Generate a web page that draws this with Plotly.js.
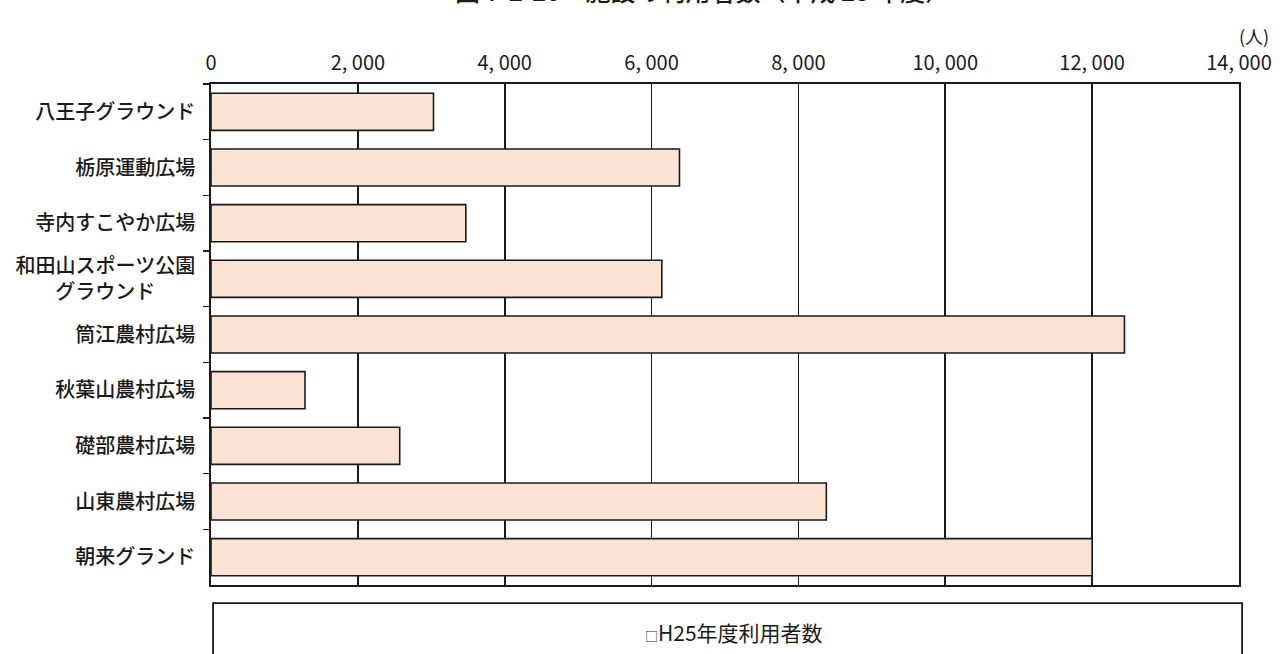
<!DOCTYPE html>
<html>
<head>
<meta charset="utf-8">
<script src="https://cdn.plot.ly/plotly-3.0.1.min.js"></script>
<style>
  html, body { margin: 0; padding: 0; background: #ffffff; }
  #chart { width: 1280px; height: 654px; }
</style>
</head>
<body>
<div id="chart"></div>
<script>
// Facility names (top to bottom)
const facilities = [
  "八王子グラウンド",
  "栃原運動広場",
  "寺内すこやか広場",
  "和田山スポーツ公園<br>グラウンド　　",
  "筒江農村広場",
  "秋葉山農村広場",
  "礎部農村広場",
  "山東農村広場",
  "朝来グランド"
];

// Number of users, FY H25 (persons)
const users = [3030, 6380, 3470, 6140, 12440, 1280, 2570, 8380, 12000];

// Axis ticks
const xTickVals = [0, 2000, 4000, 6000, 8000, 10000, 12000, 14000];
const xTickText = ["0", "2, 000", "4, 000", "6, 000", "8, 000", "10, 000", "12, 000", "14, 000"];

const seriesName = "H25年度利用者数";
const chartTitle = "図 7-2-20　施設の利用者数（平成 25 年度）";
const unitLabel = "(人)";

const FONT = "'Noto Sans CJK JP', 'Noto Sans', sans-serif";
const INK = "#1a1a1a";

const trace = {
  type: "bar",
  orientation: "h",
  x: users,
  y: facilities,
  name: seriesName,
  marker: {
    color: "#FAE3D2",
    line: { color: INK, width: 1.6 }
  },
  hoverinfo: "x+y",
  showlegend: false
};

const layout = {
  width: 1280,
  height: 654,
  margin: { l: 211, r: 41, t: 84, b: 69 },
  paper_bgcolor: "#ffffff",
  plot_bgcolor: "#ffffff",
  font: { family: FONT, color: INK },
  bargap: 0.335,
  xaxis: {
    side: "top",
    range: [0, 14000],
    tickvals: xTickVals,
    ticktext: xTickText,
    tickfont: { family: FONT, size: 20, color: INK },
    ticks: "",
    ticklabelstandoff: 4,
    showgrid: true,
    gridcolor: INK,
    gridwidth: 1.8,
    showline: true,
    linecolor: INK,
    linewidth: 1.8,
    mirror: true,
    zeroline: false,
    fixedrange: true
  },
  yaxis: {
    type: "category",
    autorange: "reversed",
    tickson: "boundaries",
    ticks: "outside",
    ticklen: 6,
    tickwidth: 1.6,
    tickcolor: INK,
    tickfont: { family: FONT, size: 20, color: INK, weight: 500 },
    ticklabelstandoff: 10,
    showgrid: false,
    showline: true,
    linecolor: INK,
    linewidth: 1.8,
    mirror: true,
    fixedrange: true
  },
  shapes: [
    {
      // legend frame below the plot
      type: "rect",
      xref: "paper", yref: "paper",
      x0: 0.002, x1: 1.003,
      y0: -0.036, y1: -0.2,
      line: { color: INK, width: 1.8 },
      fillcolor: "rgba(0,0,0,0)"
    }
  ],
  annotations: [
    {
      text: chartTitle,
      xref: "paper", yref: "paper",
      x: (453 - 211) / 1028, y: (585 + 10) / 501,
      xanchor: "left", yanchor: "middle",
      showarrow: false,
      font: { family: FONT, size: 25, color: INK, weight: 500 }
    },
    {
      text: unitLabel,
      xref: "paper", yref: "paper",
      x: (1254 - 211) / 1028, y: (585 - 36) / 501,
      xanchor: "center", yanchor: "middle",
      showarrow: false,
      font: { family: FONT, size: 18, color: INK }
    },
    {
      text: "<span style='font-size:13px;fill:#1a1a1a'>□</span>" + seriesName,
      xref: "paper", yref: "paper",
      x: (734 - 211) / 1028, y: (585 - 632) / 501,
      xanchor: "center", yanchor: "middle",
      showarrow: false,
      font: { family: FONT, size: 21, color: INK }
    }
  ]
};

Plotly.newPlot("chart", [trace], layout, { displayModeBar: false, staticPlot: true });
</script>
</body>
</html>
